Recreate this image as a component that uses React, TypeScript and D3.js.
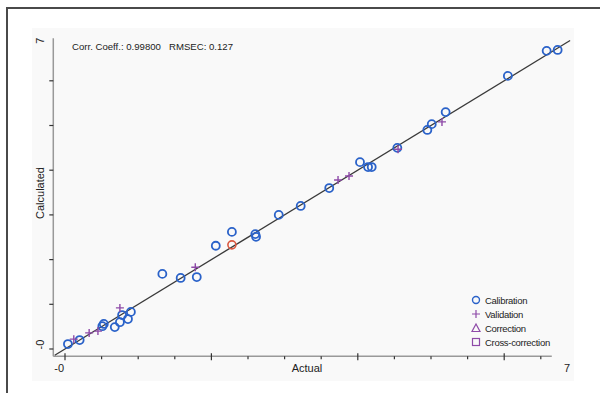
import React, { useEffect, useRef } from 'react';
import * as d3 from 'd3';

// Calibration points [actual, calculated]
const calibration: [number, number][] = [
  [0.04, 0.11], [0.2, 0.2], [0.51, 0.51], [0.53, 0.56], [0.68, 0.49],
  [0.75, 0.6], [0.78, 0.76], [0.86, 0.67], [0.9, 0.83], [1.33, 1.68],
  [1.58, 1.59], [1.8, 1.61], [2.06, 2.31], [2.28, 2.62], [2.6, 2.57],
  [2.61, 2.51], [2.92, 3.0], [3.22, 3.2], [3.61, 3.6], [4.03, 4.18],
  [4.14, 4.07], [4.19, 4.07], [4.54, 4.5], [4.95, 4.9], [5.01, 5.03],
  [5.2, 5.3], [6.05, 6.11], [6.58, 6.67], [6.73, 6.69],
];
// highlighted calibration point (drawn red)
const highlighted: [number, number][] = [[2.28, 2.33]];
const validation: [number, number][] = [
  [0.12, 0.22], [0.33, 0.36], [0.45, 0.4], [0.75, 0.92], [1.78, 1.83],
  [3.73, 3.78], [3.88, 3.87], [4.55, 4.47], [5.15, 5.08],
];
const legendItems = ['Calibration', 'Validation', 'Correction', 'Cross-correction'];
const xTicks = d3.range(0, 6.6, 0.5);
const yTicks = [0, 1, 2, 3, 4, 5, 6];
const axisMin = -0.16;
const axisLabels = ['-0', '7'];
const statsText = 'Corr. Coeff.: 0.99800   RMSEC: 0.127';

const BLUE = '#2a62c9';
const PURPLE = '#8e4aa8';

const App = () => {
  const ref = useRef<SVGSVGElement>(null);

  useEffect(() => {
    const svg = d3.select(ref.current);
    svg.selectAll('*').remove();

    const x = d3.scaleLinear().domain([0, 7]).range([65, 65 + 7 * 73.2]);
    const y = d3.scaleLinear().domain([0, 7]).range([349, 349 - 7 * 44.7]);

    // frame + plot background
    svg.append('rect').attr('x', 0).attr('y', 0).attr('width', 600).attr('height', 393).attr('fill', '#fff');
    svg.append('rect').attr('x', 32).attr('y', 28).attr('width', 542).attr('height', 353).attr('fill', '#f9f9f9');
    svg.append('path').attr('d', 'M7,393 V8 H600').attr('fill', 'none').attr('stroke', '#4a4a4a').attr('stroke-width', 2);

    // axes
    const gx = svg.append('g').attr('transform', `translate(0,${y(axisMin)})`);
    gx.append('line')
      .attr('x1', x(axisMin)).attr('x2', x(6.65))
      .attr('stroke', '#999').attr('stroke-width', 1.5);
    gx.selectAll('line.tick').data(xTicks).join('line')
      .attr('class', 'tick')
      .attr('x1', d => x(d)).attr('x2', d => x(d))
      .attr('y1', d => (d % 2 === 0 ? -3 : 0)).attr('y2', d => (d % 2 === 0 ? 4 : 3))
      .attr('stroke', '#333').attr('stroke-width', 1.2);

    const gy = svg.append('g').attr('transform', `translate(${x(axisMin)},0)`);
    gy.append('line')
      .attr('y1', y(axisMin)).attr('y2', y(6.95))
      .attr('stroke', '#999').attr('stroke-width', 1.5);
    gy.selectAll('line.tick').data(yTicks).join('line')
      .attr('class', 'tick')
      .attr('y1', d => y(d)).attr('y2', d => y(d))
      .attr('x1', -4).attr('x2', 0)
      .attr('stroke', '#333').attr('stroke-width', 1.2);

    const font = 'Arial, "Liberation Sans", sans-serif';

    // axis end labels
    svg.append('text').attr('x', x(-0.08)).attr('y', 372).attr('text-anchor', 'middle')
      .attr('font-family', font).attr('font-size', 11).attr('fill', '#222').text(axisLabels[0]);
    svg.append('text').attr('x', x(6.86)).attr('y', 372).attr('text-anchor', 'middle')
      .attr('font-family', font).attr('font-size', 11).attr('fill', '#222').text(axisLabels[1]);
    svg.append('text').attr('transform', `translate(44,${y(0.1)}) rotate(-90)`).attr('text-anchor', 'middle')
      .attr('font-family', font).attr('font-size', 11).attr('fill', '#222').text(axisLabels[0]);
    svg.append('text').attr('transform', `translate(44,${y(6.9)}) rotate(-90)`).attr('text-anchor', 'middle')
      .attr('font-family', font).attr('font-size', 11).attr('fill', '#222').text(axisLabels[1]);

    // axis titles
    svg.append('text').attr('x', 307).attr('y', 372).attr('text-anchor', 'middle')
      .attr('font-family', font).attr('font-size', 11).attr('fill', '#222').text('Actual');
    svg.append('text').attr('transform', `translate(44,193) rotate(-90)`).attr('text-anchor', 'middle')
      .attr('font-family', font).attr('font-size', 11).attr('fill', '#222').text('Calculated');

    svg.append('text').attr('x', 72).attr('y', 50)
      .attr('font-family', font).attr('font-size', 9).attr('fill', '#222')
      .style('white-space', 'pre')
      .attr('textLength', 161).attr('lengthAdjust', 'spacingAndGlyphs')
      .text(statsText);

    // 1:1 line
    svg.append('line')
      .attr('x1', x(-0.14)).attr('y1', y(-0.14))
      .attr('x2', x(6.9)).attr('y2', y(6.9))
      .attr('stroke', '#3a3a3a').attr('stroke-width', 1.3);

    // calibration circles
    svg.append('g').selectAll('circle').data(calibration).join('circle')
      .attr('cx', d => x(d[0])).attr('cy', d => y(d[1])).attr('r', 4)
      .attr('fill', 'none').attr('stroke', BLUE).attr('stroke-width', 1.8);
    svg.append('g').selectAll('circle').data(highlighted).join('circle')
      .attr('cx', d => x(d[0])).attr('cy', d => y(d[1])).attr('r', 4)
      .attr('fill', 'none').attr('stroke', '#d9573f').attr('stroke-width', 1.6);

    // validation pluses
    svg.append('g').selectAll('path').data(validation).join('path')
      .attr('d', 'M-4,0H4M0,-4V4')
      .attr('transform', d => `translate(${x(d[0])},${y(d[1])})`)
      .attr('fill', 'none').attr('stroke', PURPLE).attr('stroke-width', 1.4);

    // legend
    const lg = svg.append('g').attr('transform', 'translate(476,300)');
    legendItems.forEach((name, i) => {
      const g = lg.append('g').attr('transform', `translate(0,${i * 14})`);
      if (i === 0) g.append('circle').attr('r', 3.5).attr('fill', 'none').attr('stroke', BLUE).attr('stroke-width', 1.4);
      if (i === 1) g.append('path').attr('d', 'M-4,0H4M0,-4V4').attr('stroke', PURPLE).attr('stroke-width', 1.2);
      if (i === 2) g.append('path').attr('d', 'M0,-4L4,3.5H-4Z').attr('fill', 'none').attr('stroke', PURPLE).attr('stroke-width', 1.2);
      if (i === 3) g.append('rect').attr('x', -3.5).attr('y', -3.5).attr('width', 7).attr('height', 7)
        .attr('fill', 'none').attr('stroke', PURPLE).attr('stroke-width', 1.2);
      g.append('text').attr('x', 9).attr('y', 3.5)
        .attr('font-family', font).attr('font-size', 9.5).attr('fill', '#222')
        .attr('letter-spacing', -0.3)
        .text(name);
    });
  }, []);

  return (
    <svg ref={ref} width={600} height={393} style={{ position: 'absolute', left: 0, top: 0 }} />
  );
};

export default App;
